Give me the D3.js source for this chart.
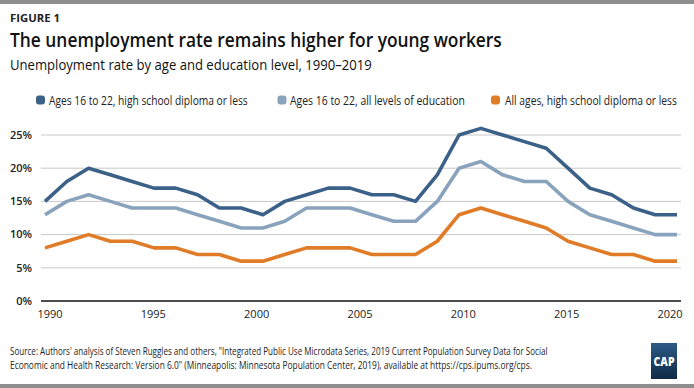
<!DOCTYPE html>
<html>
<head>
<meta charset="utf-8">
<script src="https://cdn.jsdelivr.net/npm/d3@7"></script>
<style>
  html, body { margin: 0; padding: 0; background: #fff; }
  svg { display: block; font-family: "Open Sans", "Noto Sans", sans-serif; }
</style>
</head>
<body>
<svg id="chart" width="694" height="388"></svg>
<script>
const years = [1990, 1991, 1992, 1993, 1994, 1995, 1996, 1997, 1998, 1999,
  2000, 2001, 2002, 2003, 2004, 2005, 2006, 2007, 2008, 2009,
  2010, 2011, 2012, 2013, 2014, 2015, 2016, 2017, 2018, 2019];

const youngHighSchool = [15, 18, 20, 19, 18, 17, 17, 16, 14, 14, 13, 15, 16, 17, 17,
  16, 16, 15, 19, 25, 26, 25, 24, 23, 20, 17, 16, 14, 13, 13];
const youngAllEducation = [13, 15, 16, 15, 14, 14, 14, 13, 12, 11, 11, 12, 14, 14, 14,
  13, 12, 12, 15, 20, 21, 19, 18, 18, 15, 13, 12, 11, 10, 10];
const allAgesHighSchool = [8, 9, 10, 9, 9, 8, 8, 7, 7, 6, 6, 7, 8, 8, 8,
  7, 7, 7, 9, 13, 14, 13, 12, 11, 9, 8, 7, 7, 6, 6];

const seriesNames = [
  "Ages 16 to 22, high school diploma or less",
  "Ages 16 to 22, all levels of education",
  "All ages, high school diploma or less",
];
const seriesColors = ["#3c6189", "#89a3bd", "#e07b27"];

const xTickLabels = ["1990", "1995", "2000", "2005", "2010", "2015", "2020"];
const yTicks = [0, 5, 10, 15, 20, 25];

const series = [youngHighSchool, youngAllEducation, allAgesHighSchool].map((values, i) => ({
  name: seriesNames[i],
  color: seriesColors[i],
  values: values.map((v, j) => ({ year: years[j], value: v })),
}));

const svg = d3.select("#chart");

// squeeze a text horizontally to the width it has in the reference
function fit(sel, x, y, w) {
  const len = sel.node().getComputedTextLength();
  sel.attr("transform", `translate(${x},${y}) scale(${w / len},1)`);
}

// frame bars
svg.append("rect").attr("x", 0).attr("y", 0).attr("width", 694).attr("height", 4).attr("fill", "#8e8e8e");
svg.append("rect").attr("x", 0).attr("y", 384).attr("width", 694).attr("height", 4).attr("fill", "#8e8e8e");

/**
 * Header
 */
svg.append("text")
  .attr("font-size", 11).attr("font-weight", 700).attr("fill", "#222")
  .text("FIGURE 1").call(fit, 10, 22, 50);

svg.append("text")
  .attr("font-size", 20).attr("font-weight", 600).attr("fill", "#111")
  .text("The unemployment rate remains higher for young workers").call(fit, 10, 47, 492);

svg.append("text")
  .attr("font-size", 15).attr("fill", "#111")
  .text("Unemployment rate by age and education level, 1990\u20132019").call(fit, 10, 70, 362);

/**
 * Legend
 */
const legendPos = [{ m: 40.5, t: 49, w: 199 }, { m: 282, t: 290, w: 175 }, { m: 495.5, t: 505, w: 172 }];
const legendG = svg.append("g").selectAll("g").data(series).join("g");
legendG.append("rect")
  .attr("x", (d, i) => legendPos[i].m - 4.5).attr("y", 95.5)
  .attr("width", 9).attr("height", 9).attr("rx", 3)
  .attr("fill", (d) => d.color);
legendG.append("text")
  .attr("font-size", 12.5).attr("fill", "#222")
  .text((d) => d.name)
  .each(function (d, i) { d3.select(this).call(fit, legendPos[i].t, 104.5, legendPos[i].w); });

/**
 * Chart
 */
const x = d3.scaleLinear().domain(d3.extent(years)).range([45, 677]);
const xLabel = d3.scalePoint().domain(xTickLabels).range([50, 670]);
const y = d3.scaleLinear().domain([0, 25]).range([301, 135]);

svg.append("g")
  .selectAll("line")
  .data(yTicks.filter((d) => d > 0))
  .join("line")
  .attr("x1", 41).attr("x2", 681)
  .attr("y1", (d) => y(d)).attr("y2", (d) => y(d))
  .attr("stroke", "#c8c8c8").attr("stroke-width", 1);

svg.append("line")
  .attr("x1", 41).attr("x2", 681)
  .attr("y1", y(0)).attr("y2", y(0))
  .attr("stroke", "#111").attr("stroke-width", 1.3);

svg.append("g")
  .selectAll("text")
  .data(yTicks)
  .join("text")
  .attr("x", 32).attr("y", (d) => y(d)).attr("dy", "0.35em")
  .attr("text-anchor", "end")
  .attr("font-size", 11).attr("font-weight", 600).attr("fill", "#222")
  .text((d) => d + "%");

svg.append("g")
  .selectAll("text")
  .data(xTickLabels)
  .join("text")
  .attr("x", (d) => xLabel(d)).attr("y", 318)
  .attr("text-anchor", "middle")
  .attr("font-size", 11).attr("fill", "#222")
  .text((d) => d);

const line = d3.line()
  .x((d) => x(d.year))
  .y((d) => y(d.value));

svg.append("g")
  .selectAll("path")
  .data(series.slice().reverse())
  .join("path")
  .attr("d", (d) => line(d.values))
  .attr("fill", "none")
  .attr("stroke", (d) => d.color)
  .attr("stroke-width", 3.6)
  .attr("stroke-linejoin", "round");

/**
 * Source and logo
 */
const sourceLines = [
  "Source: Authors' analysis of Steven Ruggles and others, \"Integrated Public Use Microdata Series, 2019 Current Population Survey Data for Social",
  "Economic and Health Research: Version 6.0\" (Minneapolis: Minnesota Population Center, 2019), available at https://cps.ipums.org/cps.",
];
const sourceWidths = [538, 523];
svg.append("g")
  .selectAll("text")
  .data(sourceLines)
  .join("text")
  .attr("font-size", 10).attr("fill", "#222")
  .text((d) => d)
  .each(function (d, i) { d3.select(this).call(fit, 10, 355 + i * 14, sourceWidths[i]); });

const defs = svg.append("defs");
const grad = defs.append("linearGradient").attr("id", "capGrad")
  .attr("x1", 0).attr("y1", 0).attr("x2", 0).attr("y2", 1);
grad.append("stop").attr("offset", 0).attr("stop-color", "#2d5a85");
grad.append("stop").attr("offset", 1).attr("stop-color", "#0f2a47");

svg.append("rect").attr("x", 651).attr("y", 343).attr("width", 26).attr("height", 36)
  .attr("fill", "url(#capGrad)");
svg.append("text")
  .attr("text-anchor", "middle")
  .attr("font-size", 12).attr("font-weight", 800).attr("fill", "#fff")
  .text("CAP").call(fit, 664, 366, 21);
</script>
</body>
</html>
